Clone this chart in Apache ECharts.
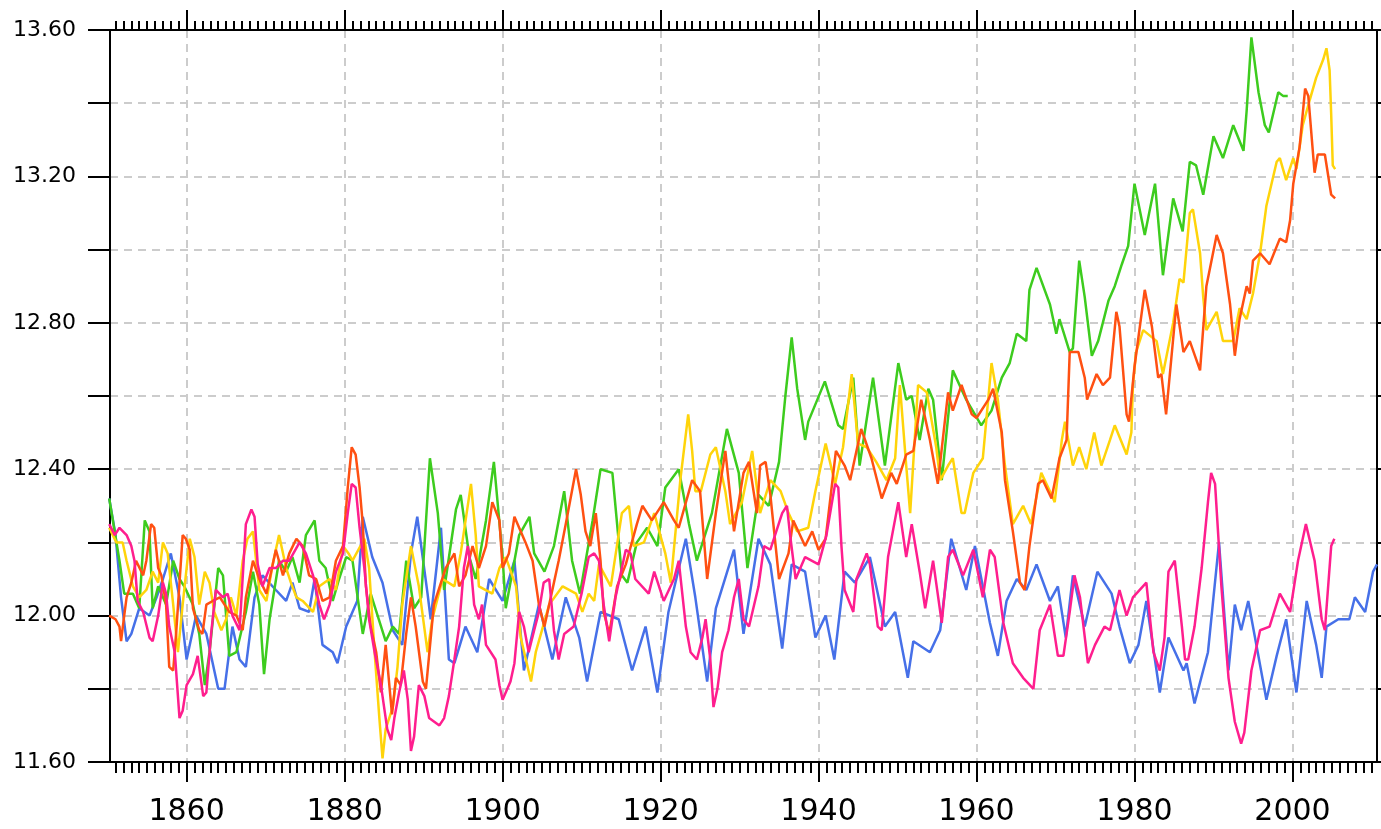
<!DOCTYPE html>
<html>
<head>
<meta charset="utf-8">
<script src="https://cdn.jsdelivr.net/npm/echarts@6/dist/echarts.min.js"></script>
<style>
  html, body { margin: 0; padding: 0; background: #fff; }
  #chart { width: 1381px; height: 829px; }
</style>
</head>
<body>
<div id="chart"></div>
<script>
// five temperature curves, [year, value]
var blue = [
  [1850.2,12.32],[1851.0,12.22],[1851.7,12.05],[1852.4,11.93],[1853.0,11.95],[1854.0,12.02],[1855.3,12.00],
  [1856.2,12.05],[1857.0,12.10],[1858.0,12.17],[1859.1,12.05],[1860.0,11.88],[1861.2,12.00],[1862.5,11.95],
  [1864.0,11.80],[1864.8,11.80],[1865.8,11.97],[1866.7,11.88],[1867.5,11.86],[1868.6,12.05],[1869.6,12.11],
  [1871.3,12.07],[1872.6,12.04],[1873.4,12.09],[1874.3,12.02],[1875.5,12.01],[1876.2,12.10],[1877.2,11.92],
  [1878.5,11.90],[1879.1,11.87],[1880.2,11.97],[1881.6,12.04],[1882.3,12.27],[1883.5,12.16],[1884.8,12.09],
  [1886.1,11.96],[1887.3,11.92],[1888.4,12.17],[1889.2,12.27],[1890.5,12.06],[1890.9,11.99],[1892.2,12.24],
  [1893.2,11.88],[1893.9,11.87],[1895.3,11.97],[1896.8,11.90],[1898.3,12.10],[1900.0,12.04],[1901.5,12.15],
  [1902.7,11.85],[1904.6,12.03],[1906.3,11.88],[1908.0,12.05],[1909.7,11.94],[1910.7,11.82],[1912.4,12.01],
  [1914.7,11.99],[1916.4,11.85],[1918.1,11.97],[1919.6,11.79],[1921.0,12.01],[1923.2,12.21],[1924.4,12.05],
  [1925.9,11.82],[1927.0,12.02],[1929.3,12.18],[1930.5,11.95],[1932.4,12.21],[1933.9,12.14],[1935.4,11.91],
  [1936.6,12.14],[1938.3,12.12],[1939.6,11.94],[1940.9,12.00],[1942.0,11.88],[1943.3,12.12],[1944.6,12.09],
  [1946.5,12.16],[1948.4,11.97],[1949.7,12.01],[1951.3,11.83],[1952.0,11.93],[1954.1,11.90],[1955.4,11.96],
  [1956.8,12.21],[1958.7,12.07],[1959.8,12.19],[1961.7,11.98],[1962.7,11.89],[1963.8,12.04],[1965.1,12.10],
  [1966.3,12.07],[1967.6,12.14],[1969.3,12.04],[1970.3,12.08],[1971.3,11.94],[1972.2,12.11],[1973.7,11.97],
  [1975.3,12.12],[1977.1,12.06],[1978.1,11.97],[1979.4,11.87],[1980.5,11.92],[1981.5,12.04],[1983.2,11.79],
  [1984.3,11.94],[1986.2,11.85],[1986.6,11.87],[1987.6,11.76],[1989.3,11.90],[1990.7,12.20],[1991.9,11.85],
  [1992.7,12.03],[1993.5,11.96],[1994.4,12.04],[1995.6,11.90],[1996.7,11.77],[1998.0,11.89],[1999.2,11.99],
  [2000.5,11.79],[2001.8,12.04],[2003.0,11.92],[2003.7,11.83],[2004.3,11.97],[2005.8,11.99],[2007.2,11.99],
  [2007.9,12.05],[2009.2,12.01],[2010.2,12.12],[2010.7,12.14]
];

var green = [
  [1850.2,12.32],[1851.5,12.15],[1852.1,12.06],[1853.2,12.06],[1854.0,12.02],[1854.7,12.26],[1855.3,12.23],
  [1855.7,12.02],[1856.4,12.08],[1857.4,12.03],[1858.3,12.15],[1859.1,12.10],[1859.7,12.08],[1860.8,12.03],
  [1861.6,11.95],[1862.3,11.81],[1862.9,11.90],[1864.0,12.13],[1864.6,12.11],[1865.4,11.89],[1866.3,11.90],
  [1867.5,12.01],[1868.4,12.12],[1869.2,12.03],[1869.8,11.84],[1870.5,11.99],[1871.7,12.15],[1872.6,12.12],
  [1873.4,12.16],[1874.3,12.09],[1875.1,12.22],[1876.2,12.26],[1876.8,12.15],[1877.6,12.13],[1878.5,12.04],
  [1879.3,12.10],[1880.2,12.16],[1881.0,12.15],[1882.3,11.95],[1883.3,12.06],[1885.2,11.93],[1886.1,11.97],
  [1886.9,11.95],[1887.8,12.15],[1888.8,12.02],[1889.7,12.05],[1890.8,12.43],[1891.8,12.28],[1892.6,12.07],
  [1894.1,12.29],[1894.7,12.33],[1895.8,12.16],[1896.6,12.10],[1897.9,12.26],[1898.9,12.42],[1900.0,12.16],
  [1900.4,12.02],[1902.1,12.22],[1903.4,12.27],[1904.0,12.17],[1905.3,12.12],[1906.5,12.19],[1907.8,12.34],
  [1908.8,12.15],[1909.8,12.06],[1911.4,12.26],[1912.4,12.40],[1913.9,12.39],[1915.1,12.11],[1915.8,12.09],
  [1917.0,12.20],[1918.3,12.24],[1919.6,12.19],[1920.6,12.35],[1922.3,12.40],[1923.6,12.25],[1924.6,12.15],
  [1926.5,12.28],[1928.4,12.51],[1929.9,12.39],[1931.0,12.13],[1932.4,12.33],[1933.7,12.30],[1935.0,12.42],
  [1935.8,12.60],[1936.6,12.76],[1937.3,12.62],[1938.3,12.48],[1938.7,12.53],[1940.8,12.64],[1942.5,12.52],
  [1943.1,12.51],[1944.4,12.65],[1945.2,12.41],[1946.9,12.65],[1948.4,12.41],[1950.1,12.69],[1951.1,12.59],
  [1951.8,12.60],[1952.8,12.48],[1953.9,12.62],[1954.5,12.59],[1955.6,12.37],[1957.0,12.67],[1958.7,12.59],
  [1960.6,12.52],[1961.9,12.56],[1963.2,12.65],[1964.2,12.69],[1965.1,12.77],[1966.3,12.75],[1966.7,12.89],
  [1967.6,12.95],[1969.3,12.85],[1970.1,12.77],[1970.5,12.81],[1971.8,12.72],[1972.2,12.73],[1973.0,12.97],
  [1973.7,12.87],[1974.6,12.71],[1975.4,12.75],[1976.7,12.86],[1977.5,12.90],[1978.4,12.96],[1979.2,13.01],
  [1980.0,13.18],[1981.3,13.04],[1982.6,13.18],[1983.6,12.93],[1984.9,13.14],[1986.1,13.05],[1987.0,13.24],
  [1987.8,13.23],[1988.7,13.15],[1990.0,13.31],[1991.2,13.25],[1992.5,13.34],[1993.8,13.27],[1994.2,13.38],
  [1994.8,13.58],[1995.7,13.43],[1996.5,13.34],[1997.0,13.32],[1998.2,13.43],[1998.8,13.42],[1999.4,13.42]
];

var orange = [
  [1850.2,12.00],[1851.0,11.99],[1851.5,11.97],[1851.7,11.93],[1852.1,12.00],[1852.4,12.05],[1853.0,12.09],
  [1853.6,12.15],[1854.5,12.11],[1854.9,12.15],[1855.5,12.25],[1855.9,12.24],[1856.4,12.13],[1856.8,12.11],
  [1857.4,12.03],[1857.8,11.86],[1858.3,11.85],[1858.7,11.96],[1859.1,12.09],[1859.5,12.22],[1859.9,12.21],
  [1860.4,12.18],[1860.8,12.02],[1861.6,11.96],[1862.0,11.95],[1862.5,12.03],[1863.3,12.04],[1864.2,12.05],
  [1865.4,12.01],[1866.3,12.00],[1867.1,11.96],[1867.5,12.05],[1868.4,12.15],[1869.2,12.10],[1870.1,12.06],
  [1871.3,12.18],[1872.2,12.11],[1873.0,12.17],[1873.9,12.21],[1874.7,12.19],[1875.5,12.11],[1876.4,12.10],
  [1877.2,12.04],[1878.1,12.05],[1878.9,12.15],[1879.8,12.19],[1880.4,12.35],[1880.9,12.46],[1881.4,12.44],
  [1881.9,12.35],[1882.3,12.25],[1882.7,12.08],[1883.3,11.97],[1884.0,11.90],[1884.6,11.79],[1885.2,11.92],
  [1886.0,11.73],[1886.5,11.83],[1887.1,11.81],[1887.8,11.95],[1888.4,12.05],[1889.0,11.97],[1889.9,11.82],
  [1890.3,11.80],[1891.3,12.03],[1892.8,12.13],[1893.9,12.17],[1894.5,12.08],[1895.3,12.11],[1896.2,12.19],
  [1897.0,12.13],[1897.9,12.19],[1898.7,12.31],[1899.6,12.26],[1900.0,12.13],[1900.8,12.17],[1901.5,12.27],
  [1902.9,12.20],[1903.8,12.15],[1904.6,12.03],[1905.3,11.97],[1905.9,12.03],[1907.1,12.15],[1908.0,12.25],
  [1909.3,12.40],[1909.9,12.33],[1910.5,12.23],[1911.1,12.19],[1911.8,12.28],[1912.4,12.15],[1912.8,12.01],
  [1913.5,11.95],[1914.5,12.08],[1915.6,12.14],[1917.0,12.25],[1917.7,12.30],[1918.9,12.26],[1920.4,12.31],
  [1921.7,12.26],[1922.3,12.24],[1924.0,12.37],[1925.0,12.34],[1925.9,12.10],[1927.0,12.28],[1928.2,12.45],
  [1929.3,12.23],[1930.5,12.39],[1931.2,12.42],[1932.2,12.28],[1932.6,12.41],[1933.3,12.42],[1933.9,12.33],
  [1935.0,12.10],[1936.2,12.17],[1936.8,12.26],[1938.3,12.19],[1939.2,12.23],[1940.0,12.18],[1940.9,12.21],
  [1942.2,12.45],[1943.3,12.41],[1944.0,12.37],[1945.4,12.51],[1946.7,12.43],[1948.0,12.32],[1949.2,12.39],
  [1949.9,12.36],[1951.1,12.44],[1952.0,12.45],[1953.0,12.59],[1954.1,12.48],[1955.1,12.36],[1956.4,12.61],
  [1957.0,12.56],[1958.1,12.63],[1959.4,12.55],[1960.0,12.54],[1961.5,12.59],[1962.1,12.62],[1963.2,12.50],
  [1963.6,12.37],[1964.6,12.23],[1965.5,12.09],[1966.1,12.07],[1966.7,12.19],[1967.8,12.36],[1968.4,12.37],
  [1969.5,12.32],[1970.5,12.43],[1971.4,12.48],[1971.8,12.72],[1972.9,12.72],[1973.7,12.65],[1974.0,12.59],
  [1975.2,12.66],[1976.0,12.63],[1976.9,12.65],[1977.7,12.83],[1978.1,12.79],[1979.0,12.55],[1979.3,12.53],
  [1980.0,12.68],[1981.3,12.89],[1982.2,12.79],[1983.0,12.65],[1983.4,12.66],[1984.0,12.55],[1985.3,12.85],
  [1986.2,12.72],[1987.0,12.75],[1988.3,12.67],[1989.1,12.90],[1990.4,13.04],[1991.2,12.99],[1992.1,12.85],
  [1992.7,12.71],[1993.3,12.81],[1994.2,12.90],[1994.6,12.88],[1995.0,12.97],[1995.9,12.99],[1997.1,12.96],
  [1998.4,13.03],[1999.2,13.02],[1999.7,13.08],[2000.1,13.18],[2000.9,13.28],[2001.6,13.44],[2002.0,13.42],
  [2002.8,13.21],[2003.2,13.26],[2004.1,13.26],[2004.9,13.15],[2005.4,13.14]
];

var yellow = [
  [1850.2,12.24],[1851.1,12.20],[1851.9,12.20],[1852.4,12.15],[1853.2,12.08],[1854.0,12.05],[1854.9,12.07],
  [1855.7,12.12],[1856.4,12.09],[1857.0,12.20],[1857.6,12.17],[1858.3,12.03],[1858.9,11.90],[1859.5,12.03],
  [1860.4,12.21],[1861.0,12.16],[1861.6,12.03],[1862.3,12.12],[1862.9,12.09],[1863.5,12.01],[1864.4,11.96],
  [1865.0,11.99],[1865.6,12.05],[1866.3,12.00],[1867.1,12.15],[1867.7,12.21],[1868.4,12.23],[1869.2,12.07],
  [1870.1,12.04],[1870.9,12.14],[1871.7,12.22],[1872.6,12.13],[1873.2,12.09],[1873.9,12.05],[1874.7,12.04],
  [1876.0,12.01],[1876.8,12.08],[1878.1,12.10],[1878.9,12.07],[1879.8,12.19],[1880.5,12.17],[1881.0,12.15],
  [1882.5,12.21],[1883.1,12.13],[1883.8,11.90],[1884.4,11.72],[1884.8,11.61],[1885.2,11.69],[1886.1,11.75],
  [1886.7,11.86],[1887.3,12.03],[1888.4,12.19],[1889.4,12.08],[1890.5,11.90],[1891.1,11.99],[1892.4,12.10],
  [1893.9,12.08],[1894.7,12.17],[1896.0,12.36],[1896.6,12.22],[1897.0,12.08],[1898.7,12.06],[1899.6,12.13],
  [1900.4,12.16],[1901.7,12.08],[1902.3,11.94],[1903.6,11.82],[1904.2,11.90],[1905.9,12.03],[1907.6,12.08],
  [1909.3,12.06],[1910.1,12.01],[1910.9,12.06],[1911.6,12.04],[1912.2,12.14],[1913.7,12.08],[1915.1,12.28],
  [1916.0,12.30],[1916.6,12.19],[1917.9,12.20],[1919.2,12.28],[1920.6,12.17],[1921.3,12.09],[1922.5,12.37],
  [1923.5,12.55],[1924.0,12.45],[1924.4,12.34],[1925.1,12.34],[1926.3,12.44],[1927.0,12.46],[1928.2,12.34],
  [1928.8,12.25],[1930.3,12.31],[1931.6,12.45],[1932.6,12.28],[1933.9,12.37],[1935.2,12.34],[1936.2,12.28],
  [1937.3,12.23],[1938.7,12.24],[1939.6,12.34],[1940.9,12.47],[1942.1,12.36],[1943.1,12.46],[1944.2,12.66],
  [1945.0,12.47],[1946.1,12.46],[1947.3,12.42],[1948.6,12.37],[1949.7,12.43],[1950.3,12.63],[1951.1,12.41],
  [1951.6,12.28],[1952.6,12.63],[1953.7,12.61],[1954.9,12.46],[1955.4,12.37],[1956.4,12.41],[1957.0,12.43],
  [1958.1,12.28],[1958.5,12.28],[1959.6,12.39],[1960.8,12.43],[1961.9,12.69],[1962.7,12.59],[1963.6,12.41],
  [1964.6,12.25],[1965.9,12.30],[1966.9,12.25],[1968.2,12.39],[1969.5,12.33],[1969.9,12.31],[1970.8,12.48],
  [1971.2,12.53],[1972.2,12.41],[1973.0,12.46],[1973.9,12.40],[1974.9,12.50],[1975.8,12.41],[1976.9,12.48],
  [1977.5,12.52],[1979.0,12.44],[1979.6,12.50],[1979.8,12.63],[1980.2,12.72],[1981.1,12.78],[1982.8,12.75],
  [1983.6,12.66],[1984.9,12.80],[1985.7,12.92],[1986.2,12.91],[1987.0,13.10],[1987.4,13.11],[1988.3,12.99],
  [1988.7,12.87],[1989.1,12.78],[1990.4,12.83],[1991.2,12.75],[1992.5,12.75],[1993.3,12.84],[1994.2,12.81],
  [1995.0,12.88],[1995.9,12.99],[1996.7,13.12],[1998.0,13.24],[1998.4,13.25],[1999.2,13.19],[2000.1,13.25],
  [2000.5,13.22],[2001.3,13.34],[2002.2,13.41],[2003.0,13.47],[2003.9,13.52],[2004.3,13.55],[2004.7,13.49],
  [2004.9,13.37],[2005.1,13.23],[2005.4,13.22]
];

var pink = [
  [1850.2,12.25],[1850.9,12.22],[1851.5,12.24],[1852.4,12.22],[1853.0,12.19],[1853.4,12.15],[1853.8,12.04],
  [1854.5,12.01],[1855.3,11.94],[1855.7,11.93],[1856.4,12.00],[1857.0,12.09],[1857.4,12.06],[1857.8,11.97],
  [1858.5,11.90],[1859.1,11.72],[1859.5,11.74],[1860.0,11.81],[1860.8,11.84],[1861.4,11.89],[1862.1,11.78],
  [1862.5,11.79],[1863.1,11.95],[1863.7,12.07],[1864.6,12.05],[1865.2,12.06],[1865.8,12.00],[1866.7,11.96],
  [1867.5,12.25],[1868.2,12.29],[1868.6,12.27],[1869.0,12.14],[1869.6,12.08],[1870.5,12.13],[1871.3,12.13],
  [1872.2,12.15],[1873.0,12.15],[1874.3,12.20],[1875.1,12.17],[1876.0,12.11],[1876.8,12.03],[1877.4,11.99],
  [1878.1,12.03],[1878.9,12.12],[1879.8,12.17],[1880.4,12.28],[1880.9,12.36],[1881.4,12.35],[1881.9,12.24],
  [1882.5,12.13],[1883.1,11.99],[1883.8,11.90],[1884.6,11.81],[1885.4,11.69],[1885.9,11.66],[1886.3,11.72],
  [1886.9,11.79],[1887.5,11.85],[1888.0,11.77],[1888.4,11.63],[1888.8,11.67],[1889.4,11.81],[1890.1,11.78],
  [1890.7,11.72],[1892.0,11.70],[1892.6,11.72],[1893.2,11.78],[1893.9,11.88],[1894.5,11.97],[1895.1,12.13],
  [1895.6,12.19],[1896.0,12.13],[1896.4,12.03],[1897.0,11.99],[1897.4,12.03],[1897.9,11.92],[1899.1,11.88],
  [1899.6,11.81],[1900.0,11.77],[1901.0,11.82],[1901.5,11.87],[1902.1,12.01],[1902.7,11.97],[1903.3,11.90],
  [1904.0,11.96],[1904.6,12.01],[1905.2,12.09],[1905.9,12.10],[1906.5,11.96],[1907.1,11.88],[1907.8,11.95],
  [1909.0,11.97],[1910.0,12.06],[1910.9,12.16],[1911.6,12.17],[1912.2,12.15],[1912.8,12.03],[1913.5,11.93],
  [1914.3,12.05],[1915.6,12.18],[1916.2,12.17],[1916.8,12.10],[1918.5,12.06],[1919.2,12.12],[1920.4,12.04],
  [1921.7,12.10],[1922.3,12.15],[1923.2,11.97],[1923.8,11.90],[1924.6,11.88],[1925.3,11.94],[1925.7,11.99],
  [1926.3,11.88],[1926.7,11.75],[1927.2,11.80],[1927.8,11.90],[1928.6,11.96],[1929.3,12.05],[1929.9,12.10],
  [1930.5,11.99],[1931.2,11.97],[1932.4,12.08],[1933.1,12.19],[1933.9,12.18],[1935.4,12.28],[1936.0,12.30],
  [1936.4,12.22],[1937.1,12.10],[1938.3,12.16],[1940.0,12.14],[1941.0,12.22],[1942.1,12.36],[1942.5,12.35],
  [1942.9,12.19],[1943.3,12.07],[1944.4,12.01],[1944.8,12.10],[1946.1,12.17],[1946.5,12.14],[1947.5,11.97],
  [1948.0,11.96],[1948.8,12.16],[1950.1,12.31],[1951.1,12.16],[1951.8,12.25],[1952.8,12.12],[1953.5,12.02],
  [1954.5,12.15],[1955.6,11.98],[1956.4,12.16],[1957.0,12.18],[1958.3,12.11],[1959.6,12.18],[1960.8,12.05],
  [1961.7,12.18],[1962.3,12.16],[1963.4,11.98],[1964.6,11.87],[1965.9,11.83],[1967.2,11.80],[1968.0,11.96],
  [1969.3,12.03],[1970.3,11.89],[1971.0,11.89],[1971.8,12.01],[1972.4,12.11],[1973.1,12.05],[1974.1,11.87],
  [1975.0,11.92],[1976.2,11.97],[1976.9,11.96],[1978.1,12.07],[1979.0,12.00],[1979.8,12.05],[1981.5,12.09],
  [1982.4,11.90],[1983.2,11.85],[1983.8,11.94],[1984.3,12.12],[1985.1,12.15],[1986.0,11.97],[1986.4,11.88],
  [1986.8,11.88],[1987.6,11.97],[1988.5,12.13],[1989.3,12.31],[1989.7,12.39],[1990.2,12.36],[1991.0,12.08],
  [1991.9,11.83],[1992.7,11.71],[1993.5,11.65],[1993.9,11.68],[1994.8,11.85],[1995.9,11.96],[1997.1,11.97],
  [1998.4,12.06],[1999.7,12.01],[2000.7,12.15],[2001.7,12.25],[2002.8,12.15],[2003.7,11.99],[2004.1,11.96],
  [2004.9,12.19],[2005.3,12.21]
];

var yearLabels = [1860, 1880, 1900, 1920, 1940, 1960, 1980, 2000];
var xMin = 1850.3, xMax = 2010.7;
var yMin = 11.6, yMax = 13.6, yStep = 0.2;

var minorYears = [];
for (var yr = 1851; yr <= 2010; yr++) minorYears.push(yr);

var chart = echarts.init(document.getElementById('chart'));

function xAxisBase(position, ticks, tickLen, showLine) {
  return {
    type: 'value', position: position, min: xMin, max: xMax,
    axisLine: { show: showLine, onZero: false, lineStyle: { color: '#000', width: 2 } },
    axisTick: { show: true, inside: false, length: tickLen, customValues: ticks,
                lineStyle: { color: '#000', width: 2 } },
    axisLabel: { show: false },
    splitLine: { show: false }
  };
}

var xMain = xAxisBase('bottom', yearLabels, 20, true);
xMain.splitNumber = 8;
xMain.axisLabel = {
  show: true, customValues: yearLabels, margin: 35,
  fontFamily: 'DejaVu Sans', fontSize: 30, color: '#000',
  formatter: function (v) { return String(Math.round(v)); }
};
xMain.splitLine = { show: true, lineStyle: { color: '#cccccc', width: 2, type: [8, 6] } };

function line(data, color) {
  return {
    type: 'line', data: data, showSymbol: false, smooth: false,
    lineStyle: { color: color, width: 2.5 }, itemStyle: { color: color }
  };
}

chart.setOption({
  animation: false,
  backgroundColor: '#fff',
  grid: { left: 110, right: 4, top: 30, bottom: 67, containLabel: false },
  xAxis: [
    xMain,
    xAxisBase('bottom', minorYears, 11, false),
    xAxisBase('top', minorYears, 9, true),
    xAxisBase('top', yearLabels, 20, false)
  ],
  yAxis: [
    {
      type: 'value', position: 'left', min: yMin, max: yMax, interval: yStep,
      axisLine: { show: true, lineStyle: { color: '#000', width: 2 } },
      axisTick: { show: true, length: 22, lineStyle: { color: '#000', width: 2 } },
      axisLabel: {
        margin: 34, fontFamily: 'DejaVu Sans', fontSize: 22, color: '#000',
        formatter: function (v) {
          return Math.round(v * 10) % 4 === 0 ? v.toFixed(2) : '';
        }
      },
      splitLine: { show: true, lineStyle: { color: '#cccccc', width: 2, type: [8, 6] } }
    },
    {
      type: 'value', position: 'right', min: yMin, max: yMax, interval: yStep,
      axisLine: { show: true, lineStyle: { color: '#000', width: 2 } },
      axisTick: { show: true, length: 4, lineStyle: { color: '#000', width: 2 } },
      axisLabel: { show: false },
      splitLine: { show: false }
    }
  ],
  series: [
    line(blue, '#4670e8'),
    line(green, '#3dcc1e'),
    line(yellow, '#ffd40a'),
    line(orange, '#ff5012'),
    line(pink, '#ff1e8e')
  ]
});
</script>
</body>
</html>
